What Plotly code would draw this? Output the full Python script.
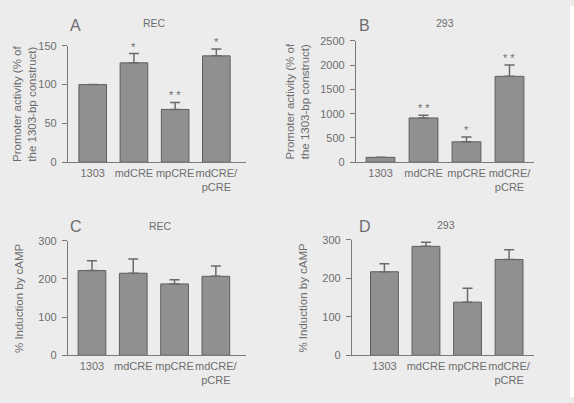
import plotly.graph_objects as go

categories = ["1303", "mdCRE", "mpCRE", "mdCRE/<br>pCRE"]

# Panel A: REC promoter activity
a_vals = [100, 128, 68, 137]
a_err = [0, 12, 9, 9]
a_sig = ["", "*", "* *", "*"]
# Panel B: 293 promoter activity
b_vals = [100, 912, 420, 1770]
b_err = [0, 55, 100, 235]
b_sig = ["", "* *", "*", "* *"]
# Panel C: REC induction by cAMP
c_vals = [222, 215, 187, 207]
c_err = [26, 37, 11, 27]
# Panel D: 293 induction by cAMP
d_vals = [217, 283, 138, 249]
d_err = [21, 11, 36, 25]

W, H = 574, 403
BG = "#ececec"
TXT = "#6e6e6e"
AX = "#7a7a7a"
FONT = "Liberation Sans, Arial, sans-serif"

panels = [
    dict(vals=a_vals, err=a_err, sig=a_sig, px=(68, 246), py=(41, 161), yr=[0, 150], dt=50,
         xr=[-0.6, 3.72], letter="A", cell="REC", letter_xy=(68, 20), cell_xy=(154, 18),
         title="Promoter activity (% of<br>the 1303-bp construct)", title_x=25),
    dict(vals=b_vals, err=b_err, sig=b_sig, px=(356, 534), py=(36, 161), yr=[0, 2500], dt=500,
         xr=[-0.57, 3.57], letter="B", cell="293", letter_xy=(357, 20), cell_xy=(445, 18),
         title="Promoter activity (% of<br>the 1303-bp construct)", title_x=298),
    dict(vals=c_vals, err=c_err, sig=None, px=(68, 246), py=(242, 360), yr=[0, 300], dt=100,
         xr=[-0.58, 3.73], letter="C", cell="REC", letter_xy=(68, 227), cell_xy=(160, 227),
         title="% Induction by cAMP", title_x=19),
    dict(vals=d_vals, err=d_err, sig=None, px=(352, 534), py=(241, 360), yr=[0, 300], dt=100,
         xr=[-0.78, 3.6], letter="D", cell="293", letter_xy=(357, 227), cell_xy=(446, 226),
         title="% Induction by cAMP", title_x=303),
]

fig = go.Figure()
annotations = []
layout_axes = {}
for i, p in enumerate(panels, start=1):
    xa = "x" if i == 1 else f"x{i}"
    ya = "y" if i == 1 else f"y{i}"
    fig.add_trace(go.Bar(
        x=categories, y=p["vals"], xaxis=xa, yaxis=ya, width=0.67,
        marker=dict(color="#909090", line=dict(color="#5e5e5e", width=1)),
        error_y=dict(type="data", symmetric=False, array=p["err"], arrayminus=[0] * 4,
                     color="#6a6a6a", thickness=1.5, width=5),
        showlegend=False, hoverinfo="skip",
    ))
    xd = [p["px"][0] / W, p["px"][1] / W]
    yd = [(H - p["py"][1]) / H, (H - p["py"][0]) / H]
    xkey = "xaxis" if i == 1 else f"xaxis{i}"
    ykey = "yaxis" if i == 1 else f"yaxis{i}"
    layout_axes[xkey] = dict(
        domain=xd, range=p["xr"], anchor=ya, type="category", tickangle=0,
        showline=True, linecolor=AX, linewidth=1.2, ticks="", showgrid=False,
        tickfont=dict(size=11, color=TXT, family=FONT), fixedrange=True,
    )
    layout_axes[ykey] = dict(
        domain=yd, range=p["yr"], anchor=xa, dtick=p["dt"],
        showline=True, linecolor=AX, linewidth=1.2, ticks="outside", ticklen=5,
        tickcolor=AX, tickwidth=1.2, showgrid=False, zeroline=False,
        ticklabelstandoff=3,
        tickfont=dict(size=11, color=TXT, family=FONT),
    )
    annotations.append(dict(text=p["letter"], xref="paper", yref="paper",
                            x=p["letter_xy"][0] / W, y=(H - p["letter_xy"][1]) / H,
                            xanchor="left", yanchor="middle", showarrow=False,
                            font=dict(size=16, color=TXT, family=FONT)))
    annotations.append(dict(text=p["cell"], xref="paper", yref="paper",
                            x=p["cell_xy"][0] / W, y=(H - p["cell_xy"][1]) / H,
                            xanchor="center", yanchor="middle", showarrow=False,
                            font=dict(size=10.5, color=TXT, family=FONT)))
    ymid = (H - (p["py"][0] + p["py"][1]) / 2) / H
    annotations.append(dict(text=p["title"], xref="paper", yref="paper",
                            x=p["title_x"] / W, y=ymid, textangle=-90,
                            xanchor="center", yanchor="middle", showarrow=False,
                            font=dict(size=11.5, color=TXT, family=FONT)))
    if p["sig"]:
        for c, v, e, s in zip(categories, p["vals"], p["err"], p["sig"]):
            if s:
                annotations.append(dict(text=s, x=c, y=v + e, xref=xa, yref=ya,
                                        xanchor="center", yanchor="bottom", yshift=-1,
                                        showarrow=False,
                                        font=dict(size=11, color=TXT, family=FONT)))

fig.update_layout(
    width=W, height=H, margin=dict(l=0, r=0, t=0, b=0),
    paper_bgcolor=BG, plot_bgcolor=BG, bargap=0.33,
    annotations=annotations,
    shapes=[dict(type="rect", xref="paper", yref="paper", x0=570 / W, x1=1, y0=0, y1=1,
                 fillcolor="#ffffff", line=dict(width=0), layer="below")],
    **layout_axes,
)
fig.write_html("out.html")
